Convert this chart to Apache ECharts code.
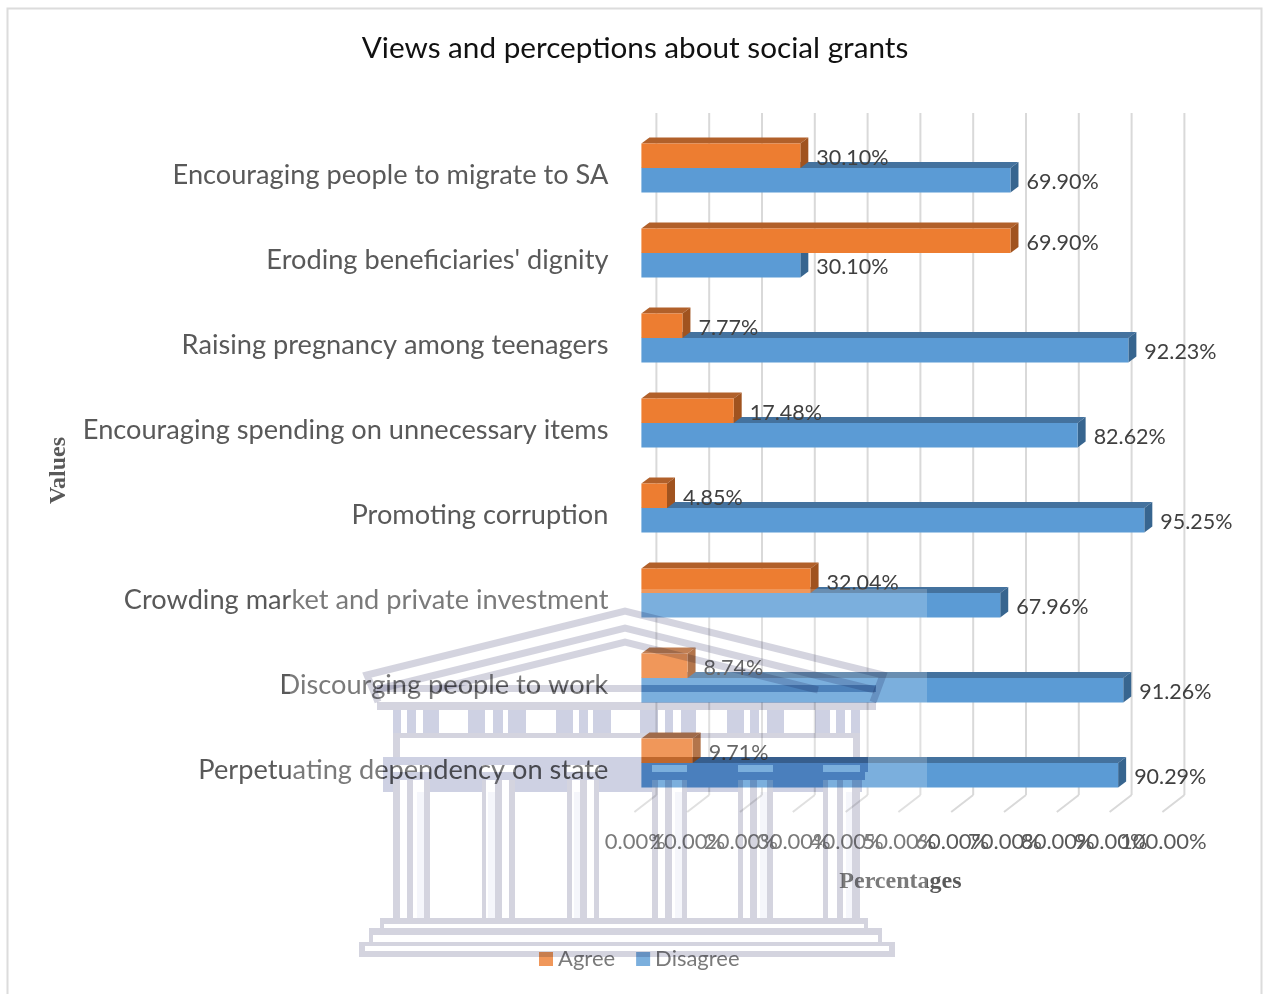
<!DOCTYPE html>
<html>
<head>
<meta charset="utf-8">
<script src="https://cdn.jsdelivr.net/npm/echarts@6/dist/echarts.min.js"></script>
<style>html,body{margin:0;padding:0;background:#fff;overflow:hidden}#c{width:1263px;height:994px}</style>
</head>
<body>
<div id="c"></div>
<script>
const categories = ['Encouraging people to migrate to SA',"Eroding beneficiaries' dignity",'Raising pregnancy among teenagers','Encouraging spending on unnecessary items','Promoting corruption','Crowding market and private investment','Discourging people to work','Perpetuating dependency on state'];
const agree = [30.10,69.90,7.77,17.48,4.85,32.04,8.74,9.71];
const disagree = [69.90,30.10,92.23,82.62,95.25,67.96,91.26,90.29];
const ticks = [0,10,20,30,40,50,60,70,80,90,100];

const FONT = 'Lato';
const DX = 8, DY = 6;

function bar3d(front, top, side, seriesIdx, labelDy) {
  return function (params, api) {
    const v = api.value(0), c = api.value(1);
    const p0 = api.coord([0, c]), p1 = api.coord([v, c]);
    const h = api.size([0, 1])[1] * 0.288;
    const y = seriesIdx === 0 ? p0[1] - h : p0[1];
    const x0 = p0[0], x1 = p1[0];
    return {
      type: 'group',
      children: [
        {type:'polygon', shape:{points:[[x0,y],[x1,y],[x1+DX,y-DY],[x0+DX,y-DY]]}, style:{fill:top}},
        {type:'polygon', shape:{points:[[x1,y],[x1,y+h],[x1+DX,y+h-DY],[x1+DX,y-DY]]}, style:{fill:side}},
        {type:'rect', shape:{x:x0,y:y,width:x1-x0,height:h}, style:{fill:front}},
        {type:'text', x:x1+16, y:y+h/2+labelDy, style:{text:v.toFixed(2)+'%', fill:'#404040', font:'21.5px '+FONT, align:'left', verticalAlign:'middle'}}
      ]
    };
  };
}

function wallItem(params, api) {
  const t = api.value(0);
  const x = api.coord([t, 0])[0];
  const cs = params.coordSys;
  const back = x + 15, fr = x - 7;
  const top = cs.y - 12.5, bot = cs.y + cs.height - 10.5;
  const st = {stroke:'#d9d9d9', lineWidth:2, fill:null};
  return {type:'group', children:[
    {type:'line', shape:{x1:back,y1:top,x2:back,y2:bot}, style:st},
    {type:'line', shape:{x1:back,y1:bot,x2:fr,y2:bot+17}, style:st},
    {type:'text', x:fr+1, y:bot+47, style:{text:t.toFixed(2)+'%', fill:'#595959', font:'22px '+FONT, align:'center', verticalAlign:'middle'}}
  ]};
}

/* ---- watermark building ---- */
const wm = [];
const FILL = '#ced1e3', LINE = '#d4d4df', SOFT = '#f5f6fb';
function R(x0,y0,x1,y1,f,z,blend){ wm.push({type:'rect',silent:true,z:z||101,shape:{x:x0,y:y0,width:x1-x0,height:y1-y0},style:{fill:f||LINE,blend:blend||'multiply'}}); }
function P(pts,w){ wm.push({type:'polyline',silent:true,z:101,shape:{points:pts},style:{stroke:LINE,lineWidth:w||7,fill:null,blend:'multiply',lineJoin:'miter'}}); }
function strips(x0,x1,y0,y1,gaps,f,z,blend){ let a=x0; gaps.forEach(g=>{ if(g[0]>a) R(a,y0,g[0],y1,f,z,blend); a=g[1]; }); if(a<x1) R(a,y0,x1,y1,f,z,blend); }

const AX = 625;
P([[378,702],[367,675],[AX,611],[883,675],[873,702]],7);
P([[375,690],[AX,628],[875,690]],7);
P([[432,690],[AX,642],[818,690]],7);
R(377,685,876,692);
R(377,702,876,710);
const friezeGaps = [[401,407],[416,423],[439,468],[485,493],[503,508],[526,556],[573,579],[588,593],[611,640],[658,665],[673,681],[696,727],[744,750],[759,767],[784,815],[830,836],[845,851]];
strips(393,860,710,733,friezeGaps,FILL);
R(393,733,860,738);
R(393,738,400,757); R(853,738,860,757);
const colStrokes = [[393,400],[407,413],[424,430],[482,486],[495,502],[509,515],[567,572],[580,587],[594,599],[652,658],[665,672],[682,687],[738,743],[750,757],[767,773],[823,828],[837,843],[852,860]];
const colGroups = [[393,430],[482,515],[567,599],[652,687],[738,773],[823,860]];
const colSoft = [[417,424],[488,495],[574,580],[675,682],[760,767],[846,852]];
R(383,757,868,765,FILL);
strips(383,868,765,772,colGroups,FILL);
R(383,772,865,780,FILL);
strips(383,862,780,792,colGroups,FILL);
colStrokes.forEach(s=>R(s[0],780,s[1],918));
colSoft.forEach(s=>R(s[0],792,s[1],918,SOFT));
R(380,918,868,924);
R(380,924,384,928); R(864,924,868,928);
R(369,928,882,935);
R(369,935,373,942); R(878,935,882,942);
R(359,942,895,946);
R(359,946,365,951); R(889,946,895,951);
R(359,951,895,957);

/* pale veil of the watermark: everywhere except the solid parts of the building */
const VEIL = 'rgba(255,255,255,0.2)';
function veil(y0,y1,gaps){ strips(290,927,y0,y1,gaps,VEIL,100,'source-over'); }
veil(589,685,[]);
veil(685,692,[[377,876]]);
veil(692,702,[]);
veil(702,710,[[377,876]]);
veil(710,757,[]);
veil(757,765,[[383,868]]);
veil(765,772,[[383,393],[430,482],[515,567],[599,652],[687,738],[773,823],[860,868]]);
veil(772,780,[[383,865]]);
veil(780,792,[[383,393],[430,482],[515,567],[599,652],[687,738],[773,823]]);
veil(792,994,[]);

const graphics = [
  {type:'rect',silent:true,z:90,shape:{x:7.5,y:8.5,width:1254,height:1010},style:{fill:null,stroke:'#dcdcdc',lineWidth:2}}
].concat(wm);

const chart = echarts.init(document.getElementById('c'));
chart.setOption({
  animation:false,
  backgroundColor:'#fff',
  title:{text:'Views and perceptions about social grants',left:630,top:28,textAlign:'center',textStyle:{fontFamily:FONT,fontWeight:'normal',fontSize:29.7,color:'#111'}},
  legend:{left:539,top:948,padding:0,icon:'rect',itemWidth:14,itemHeight:14,itemGap:21,data:['Agree','Disagree'],textStyle:{fontFamily:FONT,fontSize:22,color:'#595959'}},
  grid:{left:641.4,top:125.5,width:528,height:680,outerBoundsMode:'none',containLabel:false},
  xAxis:{type:'value',min:0,max:100,interval:10,position:'bottom',
    name:'Percentages',nameLocation:'center',nameGap:64,
    nameTextStyle:{fontFamily:'Liberation Serif',fontWeight:'bold',fontSize:24,color:'#595959',padding:[0,10,0,0]},
    axisLine:{show:false},axisTick:{show:false},splitLine:{show:false},axisLabel:{show:false}},
  yAxis:{type:'category',inverse:true,data:categories,
    name:'Values',nameLocation:'center',nameGap:571,nameRotate:90,
    nameTextStyle:{fontFamily:'Liberation Serif',fontWeight:'bold',fontSize:24,color:'#595959',padding:[0,10,0,0]},
    axisLine:{show:false},axisTick:{show:false},splitLine:{show:false},
    axisLabel:{margin:33,fontFamily:FONT,fontSize:27.2,color:'#595959',verticalAlign:'top',lineHeight:14,interval:0}},
  graphic:{elements:graphics},
  series:[
    {name:'wall',type:'custom',z:1,silent:true,renderItem:wallItem,encode:{x:0},data:ticks.map(t=>[t])},
    {name:'Disagree',type:'custom',z:2,silent:true,itemStyle:{color:'#5b9bd5'},renderItem:bar3d('#5b9bd5','#44729e','#37658f',1,1.5),encode:{x:0,y:1},data:disagree.map((v,i)=>[v,i])},
    {name:'Agree',type:'custom',z:3,silent:true,itemStyle:{color:'#ed7d31'},renderItem:bar3d('#ed7d31','#b1602a','#a0531f',0,2),encode:{x:0,y:1},data:agree.map((v,i)=>[v,i])}
  ]
});
</script>
</body>
</html>
